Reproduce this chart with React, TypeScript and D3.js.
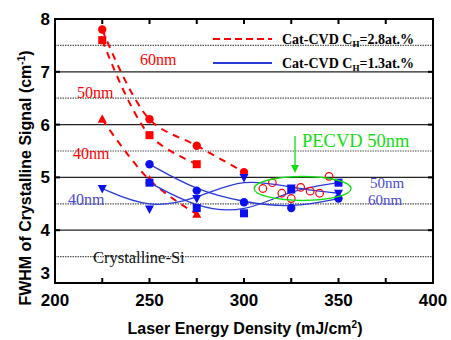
import { useEffect } from 'react'
import * as d3 from 'd3'

// x positions (laser energy density, mJ/cm2)
const redX60 = [225, 250, 275, 300]
const red60 = [7.8, 6.1, 5.6, 5.1]
const redX50 = [225, 250, 275]
const red50 = [7.6, 5.8, 5.25]
const redX40 = [225, 250, 275]
const red40 = [6.1, 4.95, 4.3]

const blueXC = [250, 275, 300, 325, 350]
const blueCircle = [5.25, 4.75, 4.53, 4.42, 4.6]
const blueXS = [250, 275, 300, 325, 350]
const blueSquare = [4.9, 4.42, 4.32, 4.77, 4.9]
const blueXT = [225, 250, 275, 300, 325, 350]
const blueTri = [4.79, 4.4, 4.6, 5.0, 4.8, 4.7]

const pecvdX = [310, 315, 320, 325, 330, 335, 340, 345]
const pecvd = [4.79, 4.9, 4.7, 4.6, 4.81, 4.74, 4.7, 5.02]

const xTicks = [200, 250, 300, 350, 400]
const xMinor = [225, 275, 325, 375]
const yTicks = [3, 4, 5, 6, 7, 8]
const yHalf = [3.5, 4.5, 5.5, 6.5, 7.5]

const RED = '#ff0000'
const BLUE = '#0a10f0'
const BLUE_LINE = '#2a3ad8'
const BLUE_TXT = '#4a4ad0'
const GREEN = '#11dd11'
const SERIF = '"Liberation Serif", "Times New Roman", serif'
const SANS = '"Liberation Sans", Arial, sans-serif'

const m = { left: 55, top: 19, right: 433, bottom: 283 }
const x = d3.scaleLinear().domain([200, 400]).range([m.left, m.right])
const y = d3.scaleLinear().domain([3, 8]).range([m.bottom, m.top])

const zip = (xs: number[], ys: number[]) => xs.map((v, i) => [v, ys[i]] as [number, number])

const redLine = d3.line<[number, number]>().x(d => x(d[0])).y(d => y(d[1])).curve(d3.curveCatmullRom.alpha(0.5))
const blueLine = d3.line<[number, number]>().x(d => x(d[0])).y(d => y(d[1])).curve(d3.curveBasis)

function Marker({ kind, cx, cy, color }: { kind: string; cx: number; cy: number; color: string }) {
  if (kind === 'circle') return <circle cx={cx} cy={cy} r={4.2} fill={color} />
  if (kind === 'square') return <rect x={cx - 4} y={cy - 4} width={8} height={8} fill={color} />
  if (kind === 'tri') return <path d={`M${cx - 4.5},${cy + 3.5}L${cx + 4.5},${cy + 3.5}L${cx},${cy - 5}Z`} fill={color} />
  return <path d={`M${cx - 4.5},${cy - 3.5}L${cx + 4.5},${cy - 3.5}L${cx},${cy + 5}Z`} fill={color} />
}

export default function App() {
  useEffect(() => {
    document.body.style.margin = '0'
  }, [])

  const redSeries = [
    { xs: redX60, ys: red60, kind: 'circle' },
    { xs: redX50, ys: red50, kind: 'square' },
    { xs: redX40, ys: red40, kind: 'tri' },
  ]
  const blueSeries = [
    { xs: blueXC, ys: blueCircle, kind: 'circle' },
    { xs: blueXS, ys: blueSquare, kind: 'square' },
    { xs: blueXT, ys: blueTri, kind: 'dtri' },
  ]

  return (
    <svg width={451} height={340} style={{ display: 'block', background: '#fff' }}>
      {/* grid */}
      {yTicks.filter(v => v > 3 && v < 8).map(v => (
        <line key={'g' + v} x1={m.left} x2={m.right} y1={y(v)} y2={y(v)} stroke="#222" strokeWidth={1.3} />
      ))}
      {yHalf.map(v => (
        <line key={'h' + v} x1={m.left} x2={m.right} y1={y(v)} y2={y(v)} stroke="#555" strokeWidth={1.2} strokeDasharray="1.5,1" />
      ))}

      {/* ticks */}
      {[...xTicks, ...xMinor].map(v => (
        <g key={'xt' + v}>
          <line x1={x(v)} x2={x(v)} y1={m.bottom} y2={m.bottom - 5} stroke="#000" strokeWidth={2} />
          <line x1={x(v)} x2={x(v)} y1={m.top} y2={m.top + 5} stroke="#000" strokeWidth={2} />
        </g>
      ))}
      {yTicks.map(v => (
        <g key={'yt' + v}>
          <line x1={m.left} x2={m.left + 5} y1={y(v)} y2={y(v)} stroke="#000" strokeWidth={2} />
          <line x1={m.right} x2={m.right - 5} y1={y(v)} y2={y(v)} stroke="#000" strokeWidth={2} />
        </g>
      ))}

      {/* red dashed lines */}
      {redSeries.map((s, i) => (
        <path key={'rl' + i} d={redLine(zip(s.xs, s.ys)) || ''} fill="none" stroke={RED} strokeWidth={2} strokeDasharray="7,6" />
      ))}
      {redSeries.map((s, i) => s.xs.map((v, j) => (
        <Marker key={`rm${i}-${j}`} kind={s.kind} cx={x(v)} cy={y(s.ys[j])} color={RED} />
      )))}

      {/* blue lines */}
      {blueSeries.map((s, i) => (
        <path key={'bl' + i} d={blueLine(zip(s.xs, s.ys)) || ''} fill="none" stroke={BLUE_LINE} strokeWidth={1.3} />
      ))}
      {blueSeries.map((s, i) => s.xs.map((v, j) => (
        <Marker key={`bm${i}-${j}`} kind={s.kind} cx={x(v)} cy={y(s.ys[j])} color={BLUE} />
      )))}

      {/* PECVD */}
      {pecvdX.map((v, i) => (
        <circle key={'p' + i} cx={x(v)} cy={y(pecvd[i])} r={3.8} fill="none" stroke={RED} strokeWidth={1.2} />
      ))}
      <ellipse cx={x(331)} cy={y(4.79)} rx={48.5} ry={12} fill="none" stroke={GREEN} strokeWidth={1.3} />
      <line x1={x(327)} x2={x(327)} y1={136} y2={168} stroke={GREEN} strokeWidth={1.3} />
      <path d={`M${x(327) - 4},${165}L${x(327) + 4},${165}L${x(327)},${173}Z`} fill={GREEN} />
      <text x={302} y={147} fill={GREEN} fontFamily={SERIF} fontSize={18.5}>PECVD 50nm</text>

      {/* series labels */}
      <text x={140} y={65} fill={RED} fontFamily={SERIF} fontSize={16}>60nm</text>
      <text x={77} y={98} fill={RED} fontFamily={SERIF} fontSize={16}>50nm</text>
      <text x={73} y={159} fill={RED} fontFamily={SERIF} fontSize={16}>40nm</text>
      <text x={68} y={205} fill={BLUE_TXT} fontFamily={SERIF} fontSize={16}>40nm</text>
      <text x={370} y={188} fill={BLUE_TXT} fontFamily={SERIF} fontSize={15}>50nm</text>
      <text x={368} y={205} fill={BLUE_TXT} fontFamily={SERIF} fontSize={15}>60nm</text>
      <text x={93} y={263} fill="#111" fontFamily={SERIF} fontSize={16.5}>Crystalline-Si</text>

      {/* legend */}
      <line x1={213} x2={272} y1={39} y2={39} stroke={RED} strokeWidth={2} strokeDasharray="7,4" />
      <line x1={213} x2={272} y1={63} y2={63} stroke={BLUE_LINE} strokeWidth={2} />
      <text x={282} y={44} fontFamily={SERIF} fontWeight="bold" fontSize={14}>
        Cat-CVD C<tspan fontSize={9} dy={3}>H</tspan><tspan dy={-3}>=2.8at.%</tspan>
      </text>
      <text x={282} y={68} fontFamily={SERIF} fontWeight="bold" fontSize={14}>
        Cat-CVD C<tspan fontSize={9} dy={3}>H</tspan><tspan dy={-3}>=1.3at.%</tspan>
      </text>

      {/* frame */}
      <rect x={m.left} y={m.top} width={m.right - m.left} height={m.bottom - m.top} fill="none" stroke="#000" strokeWidth={2} />

      {/* tick labels */}
      {xTicks.map(v => (
        <text key={'xl' + v} x={x(v)} y={306} textAnchor="middle" fontFamily={SANS} fontWeight="bold" fontSize={17}>{v}</text>
      ))}
      {yTicks.map(v => (
        <text key={'yl' + v} x={50} y={y(v) + (v === 3 ? -4 : 6)} textAnchor="end" fontFamily={SANS} fontWeight="bold" fontSize={17}>{v}</text>
      ))}

      {/* axis titles */}
      <text x={245} y={334} textAnchor="middle" fontFamily={SANS} fontWeight="bold" fontSize={16}>
        Laser Energy Density (mJ/cm<tspan fontSize={10} dy={-6}>2</tspan><tspan dy={6}>)</tspan>
      </text>
      <text transform="translate(31,178) rotate(-90)" textAnchor="middle" fontFamily={SANS} fontWeight="bold" fontSize={16}>
        FWHM of Crystalline Signal  (cm<tspan fontSize={10} dy={-6}>-1</tspan><tspan dy={6}>)</tspan>
      </text>
    </svg>
  )
}
